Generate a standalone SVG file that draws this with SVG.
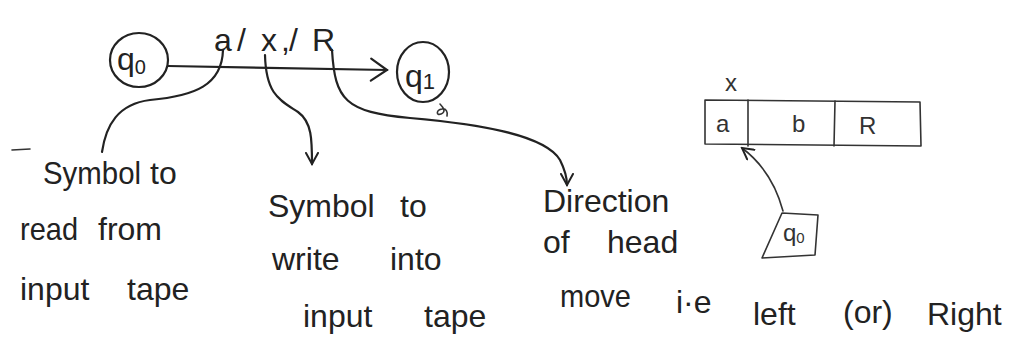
<svg xmlns="http://www.w3.org/2000/svg" width="1013" height="347" viewBox="0 0 1013 347">
<style>
.ink{fill:none;stroke:#222;stroke-width:2.2;stroke-linecap:round;stroke-linejoin:round}
.thin{fill:none;stroke:#333;stroke-width:1.6;stroke-linecap:round;stroke-linejoin:round}
.t{font-family:"Liberation Sans","DejaVu Sans",sans-serif;fill:#222;font-size:32px}
.s{font-family:"Liberation Sans","DejaVu Sans",sans-serif;fill:#333;font-size:24px}
</style>
<defs>
<marker id="arr" viewBox="0 0 14 14" refX="12" refY="7" markerWidth="14" markerHeight="14" markerUnits="userSpaceOnUse" orient="auto">
<path d="M1,1 L12,7 L1,13" fill="none" stroke="#222" stroke-width="2" stroke-linecap="round"/>
</marker>
<marker id="arrL" viewBox="0 0 20 26" refX="18" refY="13" markerWidth="20" markerHeight="26" markerUnits="userSpaceOnUse" orient="auto">
<path d="M2,2 L18,13 L2,24" fill="none" stroke="#222" stroke-width="2.2" stroke-linecap="round"/>
</marker>
</defs>
<rect width="1013" height="347" fill="#fff"/>

<g id="q0">
<ellipse cx="139" cy="60" rx="29" ry="27" class="ink"/>
<text class="t" x="117" y="70" font-size="32">q<tspan font-size="20" dy="4">0</tspan></text>
</g>

<g id="q1">
<ellipse cx="423" cy="72" rx="26" ry="30" class="ink"/>
<text class="t" x="405" y="87" font-size="34">q<tspan font-size="22" dy="2">1</tspan></text>
<path class="thin" d="M440,104 C444,108 446,112 441,114 C436,116 436,110 442,109 C446,108 448,112 447,116"/>
</g>

<g id="transition-label">
<text class="t" font-size="34" x="214 237 261 281 289 312" y="51">a/x,/R</text>
</g>

<g id="connectors">
<path class="ink" d="M168,66 L387,70" marker-end="url(#arrL)"/>
<path class="ink" d="M223,50 C222,85 195,96 150,100 C118,104 106,125 102,152"/>
<path class="ink" d="M265,55 C266,95 280,100 298,112 C312,122 312,140 312,164" marker-end="url(#arr)"/>
<path class="ink" d="M332,50 C335,100 345,112 410,118 C480,124 545,135 560,160 C565,170 567,178 567,185" marker-end="url(#arr)"/>
<path class="thin" d="M783,211 C776,185 762,163 742,148" marker-end="url(#arr)"/>
<path class="thin" d="M12,150 L30,149"/>
</g>

<g id="read-note">
<text class="t" x="43" y="184" textLength="98" lengthAdjust="spacingAndGlyphs">Symbol</text>
<text class="t" x="150" y="184">to</text>
<text class="t" x="20" y="240" textLength="58" lengthAdjust="spacingAndGlyphs">read</text>
<text class="t" x="98" y="240" font-size="34">from</text>
<text class="t" x="20" y="300">input</text>
<text class="t" x="127" y="300">tape</text>
</g>

<g id="write-note">
<text class="t" x="268" y="217">Symbol</text>
<text class="t" x="400" y="217">to</text>
<text class="t" x="272" y="270" font-size="36">write</text>
<text class="t" x="390" y="270" font-size="36">into</text>
<text class="t" x="303" y="327">input</text>
<text class="t" x="424" y="327">tape</text>
</g>

<g id="direction-note">
<text class="t" x="543" y="212">Direction</text>
<text class="t" x="543" y="253">of</text>
<text class="t" x="607" y="253">head</text>
<text class="t" x="560" y="307" textLength="71" lengthAdjust="spacingAndGlyphs">move</text>
<text class="t" x="676" y="313">i·e</text>
<text class="t" x="753" y="325" font-size="36">left</text>
<text class="t" x="843" y="323">(or)</text>
<text class="t" x="927" y="325">Right</text>
</g>

<g id="tape">
<path class="thin" d="M705,100 L920,102 L921,146 L705,144 Z"/>
<path class="thin" d="M748,100 L748,146"/>
<path class="thin" d="M835,101 L834,146"/>
<text class="s" x="716" y="132">a</text>
<text class="s" x="792" y="132">b</text>
<text class="s" x="859" y="134">R</text>
<text class="s" x="725" y="91">x</text>
</g>

<g id="head-q0">
<path class="thin" d="M782,213 L818,215 L815,255 L762,258 Z"/>
<text class="s" x="783" y="241" font-size="21">q<tspan font-size="15" dy="2">0</tspan></text>
</g>
</svg>
